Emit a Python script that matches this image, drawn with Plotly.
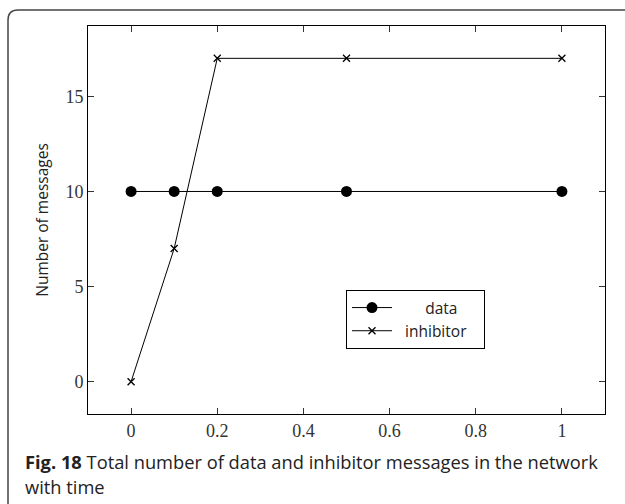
import plotly.graph_objects as go

x_vals = [0, 0.1, 0.2, 0.5, 1]
data_msgs = [10, 10, 10, 10, 10]
inhibitor_msgs = [0, 7, 17, 17, 17]
x_ticks = [0, 0.2, 0.4, 0.6, 0.8, 1]
x_ticklabels = ["0", "0.2", "0.4", "0.6", "0.8", "1"]
y_ticks = [0, 5, 10, 15]

W, H = 625, 504
L, R, T, B = 88, 605, 26, 414
PW, PH = R - L, B - T

def px(x):
    return (x - L) / PW

def py(y):
    return (B - y) / PH

fig = go.Figure()
fig.add_trace(go.Scatter(x=x_vals, y=data_msgs, name="&nbsp;&nbsp;&nbsp;&nbsp;&nbsp;&nbsp;&nbsp;data",
                         mode="lines+markers",
                         line=dict(color="black", width=1),
                         marker=dict(symbol="circle", size=11, color="black")))
fig.add_trace(go.Scatter(x=x_vals, y=inhibitor_msgs, name="&nbsp;&nbsp;inhibitor&nbsp;&nbsp;&nbsp;",
                         mode="lines+markers",
                         line=dict(color="black", width=1),
                         marker=dict(symbol="x-thin", size=7, color="black",
                                     line=dict(color="black", width=1.3))))

axis_common = dict(showgrid=False, zeroline=False, showline=True, linecolor="black",
                   linewidth=1, mirror="allticks", ticks="inside", ticklen=6,
                   tickcolor="#333", tickwidth=1,
                   tickfont=dict(family="Liberation Serif", size=18, color="#333"))

fig.update_layout(
    width=W, height=H,
    margin=dict(l=L, r=W - R, t=T, b=H - B),
    paper_bgcolor="white", plot_bgcolor="white",
    xaxis=dict(range=[-0.1, 1.1], tickvals=x_ticks, ticktext=x_ticklabels, **axis_common),
    yaxis=dict(range=[-1.7, 18.7], tickvals=y_ticks, title=dict(text="Number of messages",
               font=dict(family="Open Sans", size=15.5, color="#222"), standoff=12),
               **axis_common),
    showlegend=True,
    legend=dict(x=px(346), y=py(290), xanchor="left", yanchor="top",
                bordercolor="black", borderwidth=1, bgcolor="white",
                font=dict(family="Open Sans", size=15.5, color="#222"),
                itemwidth=40, tracegroupgap=0),
)

# outer frame with rounded top-left corner
r = 10
left, top = 8, 10
path = (f"M {px(left)},{py(H + 20)} L {px(left)},{py(top + r)} "
        f"Q {px(left)},{py(top)} {px(left + r)},{py(top)} L {px(W + 20)},{py(top)}")
fig.add_shape(type="path", path=path, xref="paper", yref="paper",
              line=dict(color="#444", width=1.5), layer="below")

fig.add_annotation(xref="paper", yref="paper", x=px(23), y=py(461), xanchor="left",
                   yanchor="middle", showarrow=False, align="left",
                   text="<b>Fig. 18</b> Total number of data and inhibitor messages in the network",
                   font=dict(family="Open Sans", size=18.3, color="#222"))
fig.add_annotation(xref="paper", yref="paper", x=px(23), y=py(486), xanchor="left",
                   yanchor="middle", showarrow=False, align="left",
                   text="with time",
                   font=dict(family="Open Sans", size=18.3, color="#222"))

fig.write_html("out.html")
